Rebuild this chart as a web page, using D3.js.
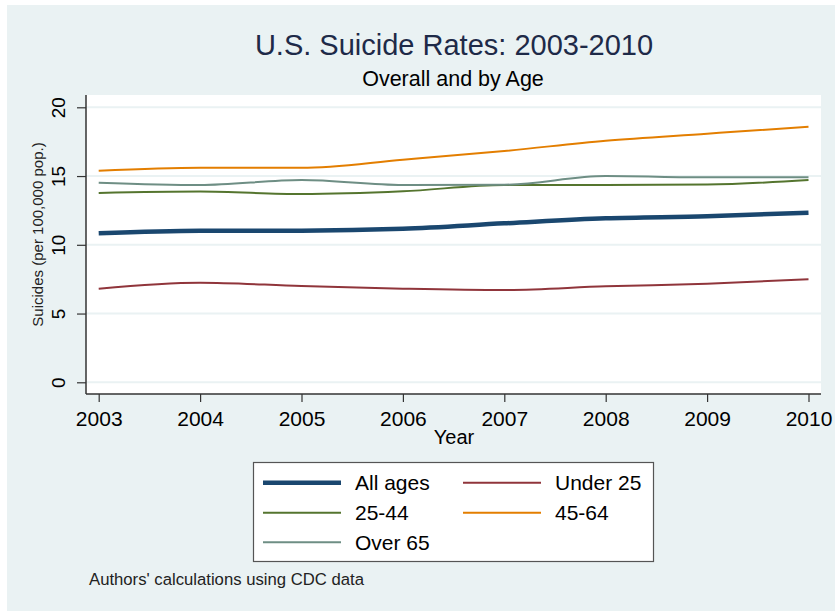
<!DOCTYPE html>
<html>
<head>
<meta charset="utf-8">
<script src="https://cdn.jsdelivr.net/npm/d3@7"></script>
<style>
  html, body { margin: 0; padding: 0; background: #ffffff; }
  svg { display: block; font-family: "Liberation Sans", Arial, sans-serif; }
</style>
</head>
<body>
<svg id="chart" width="835" height="611"></svg>
<script>
// ---------------- DATA ----------------
const years = [2003, 2004, 2005, 2006, 2007, 2008, 2009, 2010];
const allAges = [10.84, 11.02, 11.03, 11.17, 11.56, 11.93, 12.07, 12.34];
const under25 = [6.81, 7.24, 7.00, 6.81, 6.71, 6.98, 7.17, 7.49];
const age25to44 = [13.77, 13.87, 13.69, 13.89, 14.35, 14.35, 14.38, 14.71];
const age45to64 = [15.38, 15.60, 15.60, 16.19, 16.82, 17.57, 18.08, 18.59];
const over65 = [14.52, 14.35, 14.71, 14.35, 14.37, 15.00, 14.91, 14.91];
const yTicks = [0, 5, 10, 15, 20];
const xTicks = years;
const seriesNames = ["All ages", "Under 25", "25-44", "45-64", "Over 65"];
const seriesValues = [allAges, under25, age25to44, age45to64, over65];

const titleText = "U.S. Suicide Rates: 2003-2010";
const subtitleText = "Overall and by Age";
const xTitle = "Year";
const yTitle = "Suicides (per 100,000 pop.)";
const noteText = "Authors' calculations using CDC data";

// ---------------- STYLE ----------------
const colors = ["#1a476f", "#90353b", "#55752f", "#e37e00", "#6e8e84"];
const widths = [4.5, 2, 2, 2, 2];
const bgColor = "#eaf2f3";

const svg = d3.select("#chart");

// outer graph region
svg.append("rect").attr("x", 7).attr("y", 5).attr("width", 828).attr("height", 606).attr("fill", bgColor);

// plot region
const plot = { left: 86, right: 821, top: 95, bottom: 394 };
svg.append("rect")
  .attr("x", plot.left).attr("y", plot.top)
  .attr("width", plot.right - plot.left).attr("height", plot.bottom - plot.top)
  .attr("fill", "#ffffff");

const x = d3.scaleLinear().domain([2003, 2010]).range([98.7, 808.5]);
const y = d3.scaleLinear().domain([0, 20]).range([382.3, 107.3]);

// gridlines
svg.append("g").selectAll("line").data(yTicks).join("line")
  .attr("x1", plot.left).attr("x2", plot.right)
  .attr("y1", d => y(d)).attr("y2", d => y(d))
  .attr("stroke", bgColor).attr("stroke-width", 2);

// lines
const line = d3.line()
  .x((d, i) => x(years[i]))
  .y(d => y(d))
  .curve(d3.curveMonotoneX);

const order = [0, 1, 2, 3, 4];
svg.append("g").selectAll("path").data(order).join("path")
  .attr("d", k => line(seriesValues[k]))
  .attr("fill", "none")
  .attr("stroke", k => colors[k])
  .attr("stroke-width", k => widths[k])
  .attr("stroke-linejoin", "round");

// y axis
const yAxis = d3.axisLeft(y).tickValues(yTicks).tickSize(9).tickSizeOuter(0).tickFormat(d3.format("d"));
const gy = svg.append("g").attr("transform", `translate(${plot.left},0)`).call(yAxis);
gy.select(".domain").remove();
gy.selectAll(".tick line").attr("stroke", "#333").attr("stroke-width", 1.2);
gy.selectAll(".tick text")
  .attr("x", null).attr("dy", null)
  .attr("transform", "translate(-21,0) rotate(-90)")
  .attr("text-anchor", "middle")
  .attr("font-size", 19)
  .attr("fill", "#000");
svg.append("line")
  .attr("x1", plot.left).attr("x2", plot.left)
  .attr("y1", plot.top).attr("y2", plot.bottom)
  .attr("stroke", "#333").attr("stroke-width", 1.5);

// x axis
const xAxis = d3.axisBottom(x).tickValues(xTicks).tickSize(8).tickSizeOuter(0).tickFormat(d3.format("d"));
const gx = svg.append("g").attr("transform", `translate(0,${plot.bottom})`).call(xAxis);
gx.select(".domain").remove();
gx.selectAll(".tick line").attr("stroke", "#333").attr("stroke-width", 1.2);
gx.selectAll(".tick text")
  .attr("y", 32).attr("dy", null)
  .attr("font-size", 21)
  .attr("fill", "#000");
svg.append("line")
  .attr("x1", plot.left).attr("x2", plot.right)
  .attr("y1", plot.bottom).attr("y2", plot.bottom)
  .attr("stroke", "#333").attr("stroke-width", 1.5);

// titles
svg.append("text").attr("x", 454).attr("y", 55).attr("text-anchor", "middle")
  .attr("font-size", 29).attr("fill", "#1e2a48").text(titleText);
svg.append("text").attr("x", 453).attr("y", 86).attr("text-anchor", "middle")
  .attr("font-size", 21.5).attr("fill", "#000").text(subtitleText);

// axis titles
svg.append("text").attr("x", 454).attr("y", 444).attr("text-anchor", "middle")
  .attr("font-size", 20).attr("fill", "#000").text(xTitle);
svg.append("text").attr("transform", "translate(43,234.5) rotate(-90)").attr("text-anchor", "middle")
  .attr("font-size", 15).attr("fill", "#222").text(yTitle);

// legend
const legend = svg.append("g");
legend.append("rect").attr("x", 253.5).attr("y", 462.5).attr("width", 400).attr("height", 99)
  .attr("fill", "#fff").attr("stroke", "#555").attr("stroke-width", 1.2);
const rowY = [482.7, 512.7, 542.3];
const colX = [263, 463];
seriesNames.forEach((name, i) => {
  const r = Math.floor(i / 2), c = i % 2;
  const g = legend.append("g");
  g.append("line")
    .attr("x1", colX[c]).attr("x2", colX[c] + 78)
    .attr("y1", rowY[r]).attr("y2", rowY[r])
    .attr("stroke", colors[i]).attr("stroke-width", widths[i]);
  g.append("text").attr("x", colX[c] + 92).attr("y", rowY[r] + 7.5)
    .attr("font-size", 21).attr("fill", "#000").text(name);
});

// note
svg.append("text").attr("x", 89).attr("y", 585).attr("font-size", 16.7).attr("fill", "#222").text(noteText);
</script>
</body>
</html>
